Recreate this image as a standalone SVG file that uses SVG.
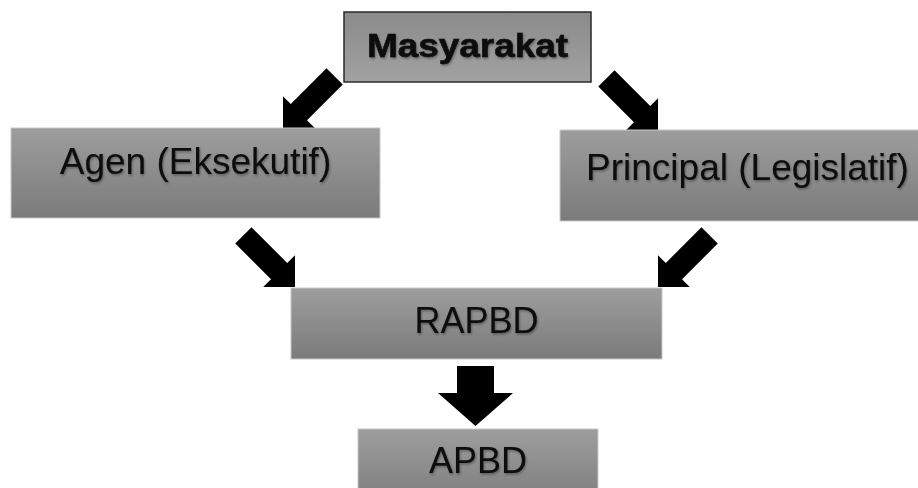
<svg xmlns="http://www.w3.org/2000/svg" width="918" height="488" viewBox="0 0 918 488">
<style>
.box{fill:url(#g);stroke:#c8c8c8;stroke-width:1}
.top{fill:url(#g2);stroke:#2a2a2a;stroke-width:1.5}
.t{font-family:"Liberation Sans",Arial,sans-serif;font-size:37px;fill:#0a0a0a;text-anchor:middle;filter:url(#sh)}
.b{font-weight:bold;font-size:33.5px;stroke:#0a0a0a;stroke-width:0.6}
.arr{fill:#000}
</style>
<defs>
<linearGradient id="g" x1="0" y1="0" x2="0" y2="1">
<stop offset="0" stop-color="#9d9d9d"/>
<stop offset="1" stop-color="#7b7b7b"/>
</linearGradient>
<linearGradient id="g2" x1="0" y1="0" x2="0" y2="1">
<stop offset="0" stop-color="#8a8a8a"/>
<stop offset="1" stop-color="#a2a2a2"/>
</linearGradient>
<filter id="sh" x="-10%" y="-20%" width="120%" height="150%">
<feDropShadow dx="1" dy="1.5" stdDeviation="1.2" flood-color="#000" flood-opacity="0.35"/>
</filter>
<path id="da" d="M0,0 L-22.5,-22.5 L-22.5,-11.5 L-73,-11.5 L-73,11.5 L-22.5,11.5 L-22.5,22.5 Z"/>
</defs>
<g id="connectors">
<use href="#da" class="arr" transform="translate(283,128) rotate(135)"/>
<use href="#da" class="arr" transform="translate(658,130) rotate(45)"/>
<use href="#da" class="arr" transform="translate(295,287) rotate(45)"/>
<use href="#da" class="arr" transform="translate(658,287) rotate(135)"/>
<polygon class="arr" points="457,366 494,366 494,393 513,393 475.5,426 438,393 457,393"/>
</g>
<g id="masyarakat">
<rect class="top" x="344" y="12" width="247" height="70"/>
<text class="t b" x="467.5" y="57" textLength="201" lengthAdjust="spacingAndGlyphs">Masyarakat</text>
</g>
<g id="agen">
<rect class="box" x="11" y="128" width="369" height="90"/>
<text class="t" x="195.5" y="174">Agen (Eksekutif)</text>
</g>
<g id="principal">
<rect class="box" x="560" y="130" width="375" height="91"/>
<text class="t" x="747.5" y="180">Principal (Legislatif)</text>
</g>
<g id="rapbd">
<rect class="box" x="291" y="288" width="371" height="71"/>
<text class="t" x="476.5" y="333" style="font-size:36px">RAPBD</text>
</g>
<g id="apbd">
<rect class="box" x="358" y="429" width="240" height="80"/>
<text class="t" x="478" y="473" style="font-size:36px">APBD</text>
</g>
</svg>
